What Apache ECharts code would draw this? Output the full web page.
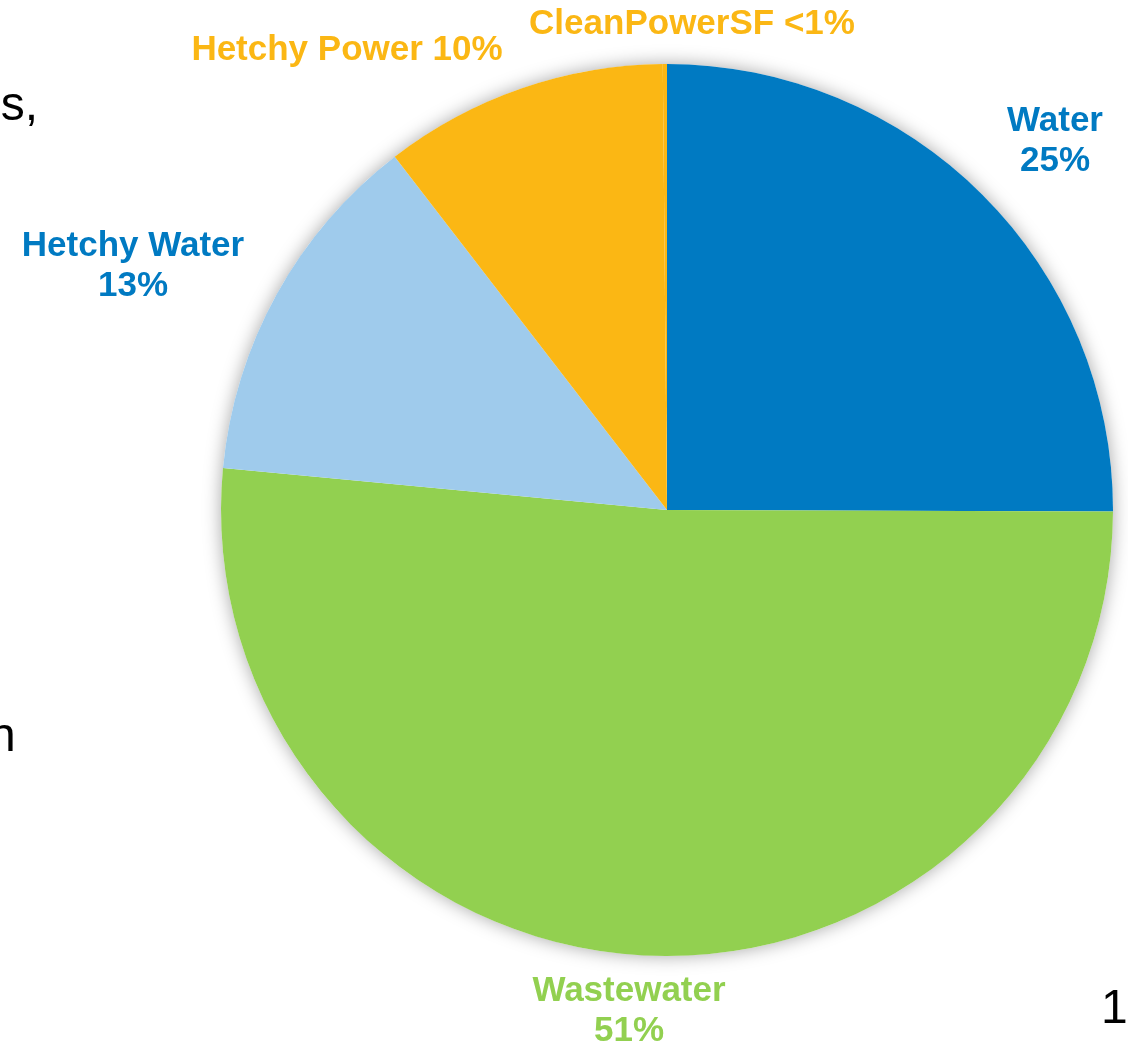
<!DOCTYPE html>
<html>
<head>
<meta charset="utf-8">
<script src="https://cdn.jsdelivr.net/npm/echarts@6/dist/echarts.min.js"></script>
<style>
html,body{margin:0;padding:0;background:#fff;}
#chart{width:1128px;height:1041px;}
</style>
</head>
<body>
<div id="chart"></div>
<script>
// ---- data ----
const categories = ['Water', 'Wastewater', 'Hetchy Water', 'Hetchy Power', 'CleanPowerSF'];
const values = [25.05, 51.45, 13.05, 10.3, 0.15];
const percentLabels = ['25%', '51%', '13%', '10%', '<1%'];
const labelTwoLines = [true, true, true, false, false];

// ---- styles ----
const sliceColors = ['#007AC2', '#92D050', '#9FCBEC', '#FBB714', '#FBB714'];
const labelColors = ['#007AC2', '#92D050', '#007AC2', '#FBB714', '#FBB714'];
const labelPos = [[1055, 141], [629, 1011], [133, 266], [347, 50], [692, 24]];

const total = values.reduce((a, b) => a + b, 0);

const chart = echarts.init(document.getElementById('chart'));
chart.setOption({
  backgroundColor: '#ffffff',
  animation: false,
  graphic: [
    { type: 'text', right: 1090, top: 83, style: { text: 's,', font: '48px "Liberation Sans", Arial, sans-serif', fill: '#000', textAlign: 'right' } },
    { type: 'text', left: -11, top: 714, style: { text: 'n', font: '48px "Liberation Sans", Arial, sans-serif', fill: '#000' } },
    { type: 'text', left: 1101, top: 986, style: { text: '1', font: '48px "Liberation Sans", Arial, sans-serif', fill: '#000' } }
  ],
  series: [
    {
      type: 'pie',
      silent: true,
      center: [667, 510],
      radius: [0, 446],
      z: 1,
      label: { show: false },
      labelLine: { show: false },
      itemStyle: {
        color: '#ffffff',
        shadowBlur: 18,
        shadowColor: 'rgba(0,0,0,0.35)'
      },
      data: [{ name: 'bg', value: total }]
    },
    {
      type: 'pie',
      z: 2,
      center: [667, 510],
      radius: [0, 446],
      startAngle: 90,
      clockwise: true,
      avoidLabelOverlap: false,
      minAngle: 0,
      data: categories.map((c, i) => ({
        name: c,
        value: values[i],
        itemStyle: { color: sliceColors[i] },
        label: { color: labelColors[i] }
      })),
      label: {
        show: true,
        position: 'outside',
        fontFamily: '"Liberation Sans", Arial, sans-serif',
        fontWeight: 'bold',
        fontSize: 35,
        lineHeight: 40,
        align: 'center',
        formatter: function (p) {
          const i = p.dataIndex;
          return labelTwoLines[i] ? categories[i] + '\n' + percentLabels[i] : categories[i] + ' ' + percentLabels[i];
        }
      },
      labelLine: { show: false },
      labelLayout: function (p) {
        const pos = labelPos[p.dataIndex];
        return { x: pos[0], y: pos[1], align: 'center', verticalAlign: 'middle', hideOverlap: false };
      },
      itemStyle: { borderWidth: 0 }
    }
  ]
});
</script>
</body>
</html>
